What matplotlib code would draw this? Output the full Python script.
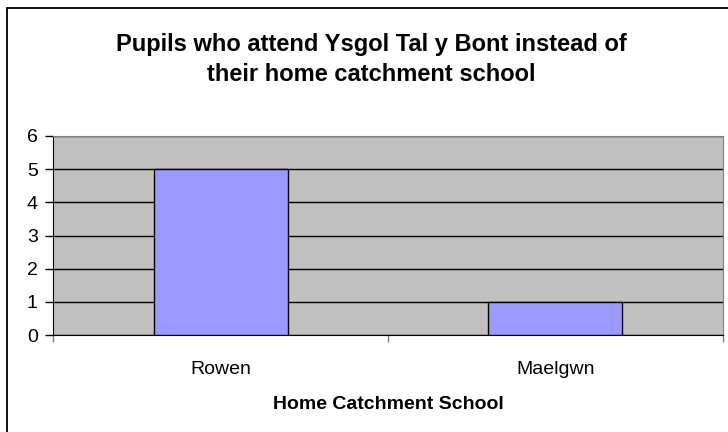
import matplotlib.pyplot as plt
from matplotlib.patches import Rectangle

schools = ["Rowen", "Maelgwn"]
pupils = [5, 1]
y_ticks = [0, 1, 2, 3, 4, 5, 6]

plt.rcParams['font.family'] = ['Liberation Sans', 'DejaVu Sans']

fig = plt.figure(figsize=(7.28, 4.32), dpi=100)

# outer chart border (runs off the right and bottom edges)
fig.patches.append(Rectangle((7 / 728, -0.01), 1.0, 1 - 8 / 432 + 0.01,
                             transform=fig.transFigure, fill=False,
                             edgecolor='black', linewidth=1.3))

ax = fig.add_axes([53 / 728, 1 - 335 / 432, (723 - 53) / 728, (335 - 136) / 432])
ax.set_facecolor('#C0C0C0')

x = list(range(len(schools)))
ax.bar(x, pupils, width=0.4, color='#9999FF', edgecolor='black', linewidth=1.0, zorder=3)

ax.set_xlim(-0.5, len(schools) - 0.5)
ax.set_ylim(0, 6)
ax.set_yticks(y_ticks)
ax.yaxis.grid(True, color='black', linewidth=1.0, zorder=1)
ax.set_axisbelow(True)

ax.set_xticks(x)
ax.set_xticklabels(schools, fontsize=14)
ax.tick_params(axis='x', length=0, pad=19)
ax.set_xticks([-0.5, 0.5, 1.5], minor=True)
ax.tick_params(axis='x', which='minor', length=5, color='#808080', width=1)
ax.tick_params(axis='y', labelsize=14, length=6, color='black', width=1, pad=5)

for side in ['top', 'right']:
    ax.spines[side].set_color('#808080')
for side in ['left', 'bottom']:
    ax.spines[side].set_color('black')

ax.set_xlabel("Home Catchment School", fontsize=14, fontweight='bold', labelpad=13)

fig.text(0.510, 0.862, "Pupils who attend Ysgol Tal y Bont instead of\ntheir home catchment school",
         ha='center', va='center', fontsize=17, fontweight='bold', linespacing=1.4)

fig.savefig("out.png", dpi=100)
